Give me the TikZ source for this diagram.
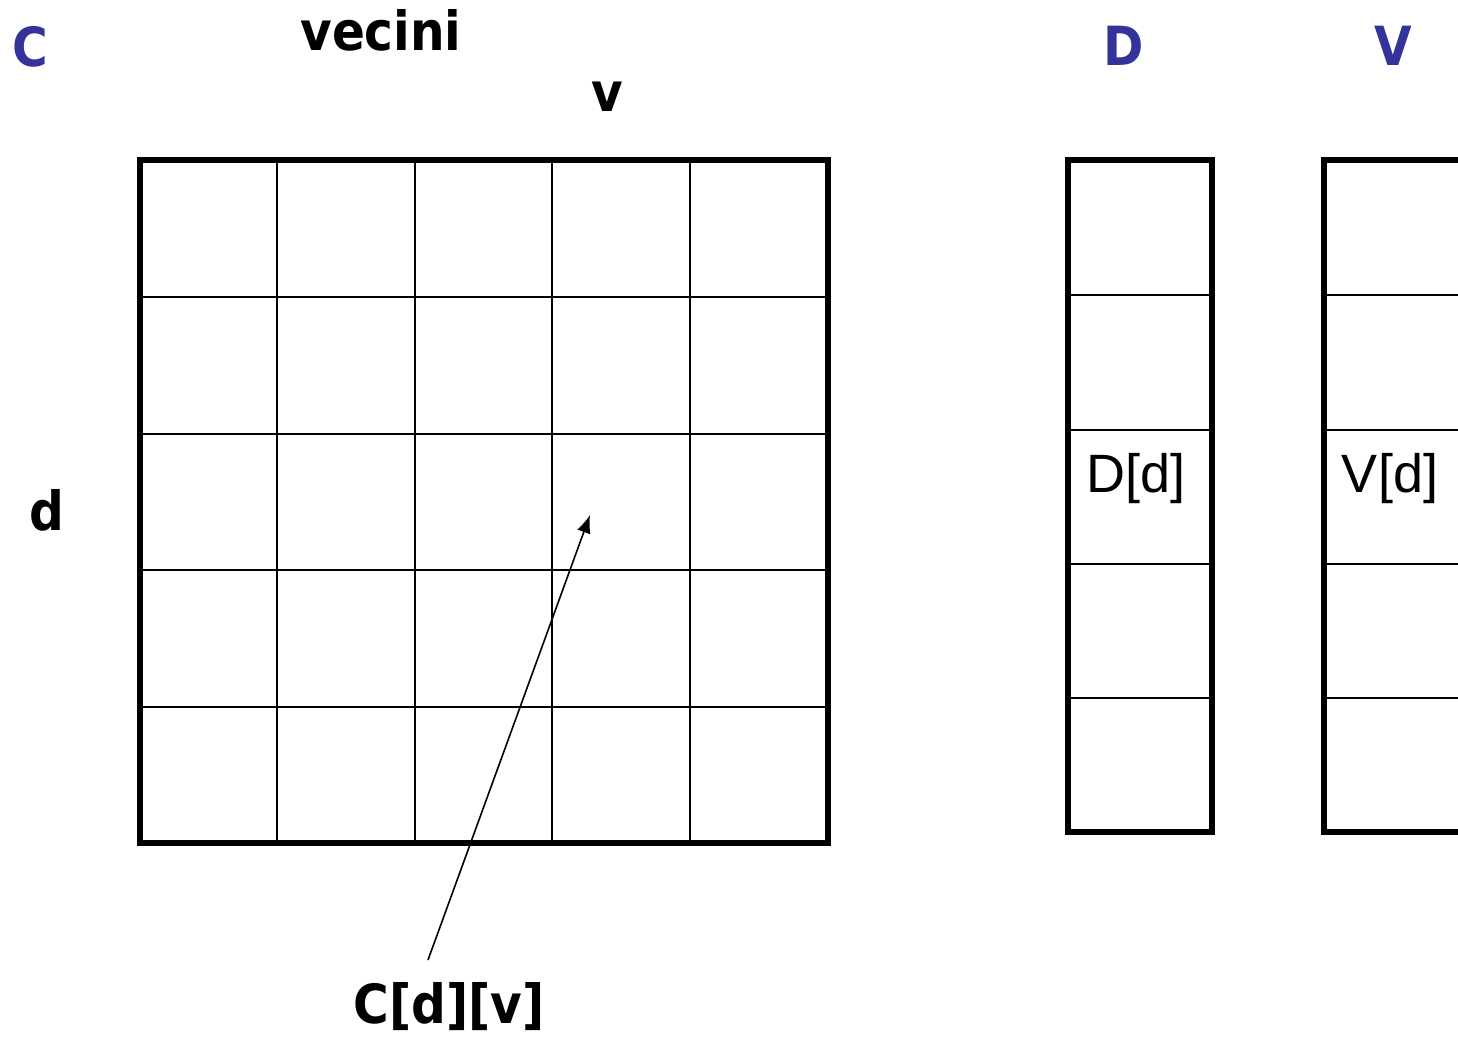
\documentclass[tikz,border=0pt]{standalone}
\usepackage{fontspec}
\usetikzlibrary{arrows.meta}
\newfontfamily\labelfont{DejaVu Sans Condensed}[BoldFont={DejaVu Sans Condensed Bold}]
\newfontfamily\cellfont{Liberation Sans}
\definecolor{titleblue}{RGB}{51,51,153}
\tikzset{
  biglabel/.style={font=\labelfont\bfseries\fontsize{27}{32}\selectfont, inner sep=0pt},
  arrname/.style={biglabel, text=titleblue},
  celltext/.style={font=\cellfont\fontsize{27}{32}\selectfont, inner sep=0pt},
  frame/.style={line width=2.8pt},
  gridline/.style={line width=1pt}
}
\begin{document}
\begin{tikzpicture}[x=0.5pt, y=-0.5pt]
			\useasboundingbox (0,0) rectangle (1458,1037);
			\clip (0,0) rectangle (1458,1037);
			% matrix C
			\foreach \x in {277,415,552,690} \draw[gridline] (\x,160) -- (\x,843);
			\foreach \y in {297,434,570,707} \draw[gridline] (140,\y) -- (828,\y);
			\draw[frame] (140,160) rectangle (828,843);
			% vectors D and V
			\foreach \y in {295,430,564,698} {
				\draw[gridline] (1068,\y) -- (1212,\y);
				\draw[gridline] (1324,\y) -- (1470,\y);
			}
			\draw[frame] (1068,160) rectangle (1212,832);
			\draw[frame] (1324,160) rectangle (1480,832);
			% labels
			\node[arrname] (cname) at (30,47) {C};
			\node[arrname] (dname) at (1124,46) {D};
			\node[arrname] (vname) at (1393,46) {V};
			\node[biglabel] (vecini) at (381,30) {vecini};
			\node[biglabel] (vcol) at (607,97) {v};
			\node[biglabel] (drow) at (47,510) {d};
			\node[celltext] (dd) at (1136,479) {D[d]};
			\node[celltext] (vd) at (1390,479) {V[d]};
			\node[biglabel] (cdv) at (449,1007) {C[d][v]};
			\coordinate (tail) at (428,960);
			\coordinate (cell) at (590,515);
			\draw[-{Latex[length=9pt,width=7pt]}, line width=0.8pt] (tail) -- (cell);
		\end{tikzpicture}
\end{document}
